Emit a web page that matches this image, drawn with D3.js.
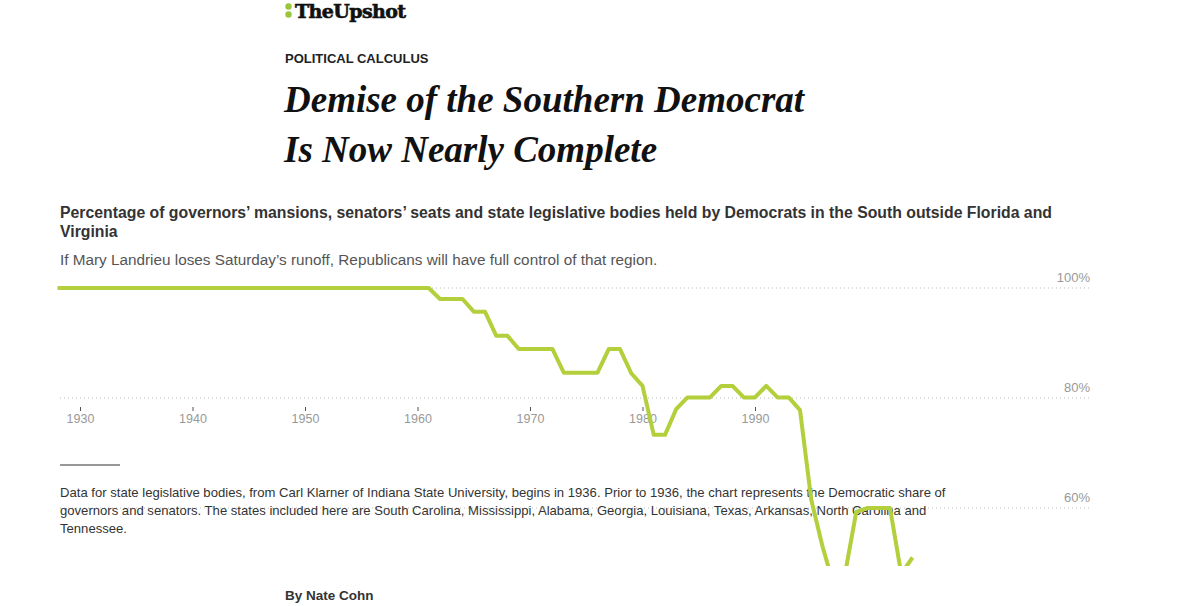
<!DOCTYPE html>
<html lang="en">
<head>
<meta charset="UTF-8">
<title>Southern Democrat</title>
<script src="https://cdn.jsdelivr.net/npm/d3@7"></script>
<style>
  body { margin: 0; background: #fff; }
  text { font-family: "Liberation Sans", Arial, sans-serif; }
</style>
</head>
<body>
<svg id="viz" width="1200" height="606"></svg>
<script>
// data
const years = [1928,1961,1962,1963,1964,1965,1966,1967,1968,1969,1970,1971,1972,1973,1974,1975,1976,1977,1978,1979,1980,1981,1982,1983,1984,1985,1986,1987,1988,1989,1990,1991,1992,1993,1994,1995,1996,1997,1998,1999,2000,2001,2002,2003,2004];
const share = [100,100,98,98,98,95.7,95.7,91.3,91.3,88.9,88.9,88.9,88.9,84.6,84.6,84.6,84.6,88.9,88.9,84.5,82.2,73.3,73.3,78,80.1,80.1,80.1,82.2,82.2,80.1,80.1,82.2,80.1,80.1,77.8,61.5,53,46,48,59.3,60,60,60,48,51];
const gridValues = [100, 80, 60];
const tickYears = [1930, 1940, 1950, 1960, 1970, 1980, 1990];
const noteLines = [
  "Data for state legislative bodies, from Carl Klarner of Indiana State University, begins in 1936. Prior to 1936, the chart represents the Democratic share of",
  "governors and senators. The states included here are South Carolina, Mississippi, Alabama, Georgia, Louisiana, Texas, Arkansas, North Carolina and",
  "Tennessee."
];

const svg = d3.select("#viz");
const x = d3.scaleLinear().domain([1930, 1990]).range([80, 755]);
const y = d3.scaleLinear().domain([100, 60]).range([288, 508]);

// header
const logo = svg.append("g");
logo.append("circle").attr("cx", 288.5).attr("cy", 6.5).attr("r", 3.2).attr("fill", "#9bc53d");
logo.append("circle").attr("cx", 288.5).attr("cy", 14.5).attr("r", 3.2).attr("fill", "#9bc53d");
svg.append("text").attr("x", 295).attr("y", 18).text("TheUpshot")
  .style("font-family", "'DejaVu Serif', serif").style("font-weight", "bold")
  .style("font-size", "19px").style("letter-spacing", "-0.6px").attr("fill", "#111")
  .attr("stroke", "#111").attr("stroke-width", 0.6);
svg.append("text").attr("x", 285).attr("y", 63).text("POLITICAL CALCULUS")
  .style("font-weight", "bold").style("font-size", "13px").attr("fill", "#222");
["Demise of the Southern Democrat", "Is Now Nearly Complete"].forEach((t, i) => {
  svg.append("text").attr("x", 284).attr("y", 112 + i * 50).text(t)
    .style("font-family", "'Liberation Serif', serif").style("font-weight", "bold")
    .style("font-style", "italic").style("font-size", "37px").attr("fill", "#111");
});
svg.append("text").attr("x", 60).attr("y", 218)
  .text("Percentage of governors’ mansions, senators’ seats and state legislative bodies held by Democrats in the South outside Florida and")
  .style("font-weight", "bold").style("font-size", "15.8px").attr("fill", "#333");
svg.append("text").attr("x", 60).attr("y", 237).text("Virginia")
  .style("font-weight", "bold").style("font-size", "15.8px").attr("fill", "#333");
svg.append("text").attr("x", 60).attr("y", 265)
  .text("If Mary Landrieu loses Saturday’s runoff, Republicans will have full control of that region.")
  .style("font-size", "15.3px").attr("fill", "#555");

// grid
gridValues.forEach(v => {
  svg.append("line").attr("x1", 60).attr("x2", 1090).attr("y1", y(v)).attr("y2", y(v))
    .attr("stroke", "#bbb").attr("stroke-dasharray", "1,3");
  svg.append("text").attr("x", 1090).attr("y", y(v) - 6).attr("text-anchor", "end")
    .text(v + "%").style("font-size", "13px").attr("fill", "#999");
});

// x axis
const xAxis = svg.append("g").attr("transform", "translate(0,410)")
  .call(d3.axisBottom(x).tickValues(tickYears).tickFormat(d3.format("d")).tickSize(4));
xAxis.select(".domain").remove();
xAxis.selectAll(".tick line").attr("stroke", "#555").attr("transform", "translate(0,-3)");
xAxis.selectAll(".tick text").style("font-size", "12.5px").attr("fill", "#999").attr("dy", "0.45em");

// note
svg.append("line").attr("x1", 60).attr("x2", 120).attr("y1", 465).attr("y2", 465).attr("stroke", "#333");
noteLines.forEach((t, i) => {
  svg.append("text").attr("x", 60).attr("y", 497 + i * 18).text(t)
    .style("font-size", "13.1px").attr("fill", "#333");
});
svg.append("text").attr("x", 285).attr("y", 600).text("By Nate Cohn")
  .style("font-weight", "bold").style("font-size", "13.5px").attr("fill", "#333");

// line
svg.append("clipPath").attr("id", "clip").append("rect")
  .attr("x", 0).attr("y", 270).attr("width", 1200).attr("height", 296);
const data = years.map((d, i) => ({year: d, v: share[i]}));
svg.append("path").datum(data).attr("clip-path", "url(#clip)")
  .attr("fill", "none").attr("stroke", "#b3cf3b").attr("stroke-width", 4)
  .attr("stroke-linejoin", "round")
  .attr("d", d3.line().x(d => x(d.year)).y(d => y(d.v)));
</script>
</body>
</html>
